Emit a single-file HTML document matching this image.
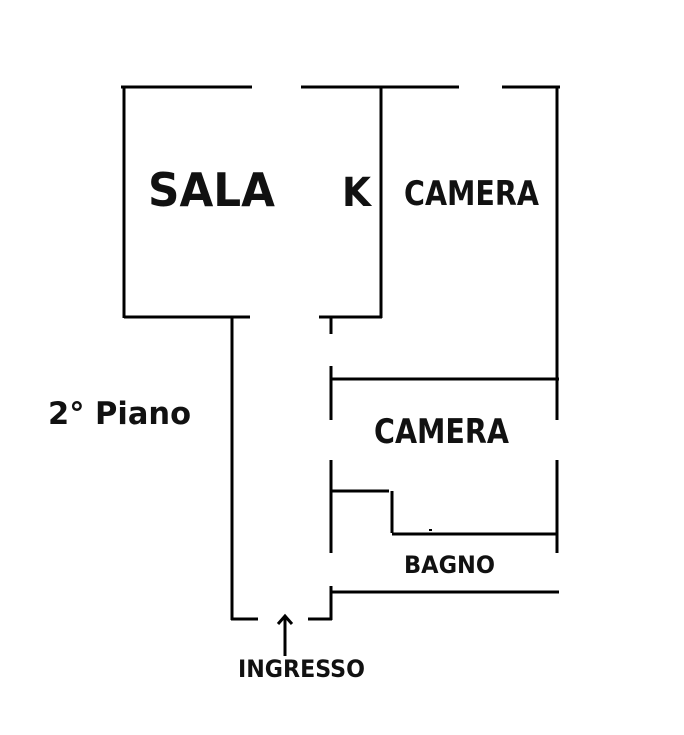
<!DOCTYPE html>
<html><head><style>html,body{margin:0;padding:0;background:#fff}svg{display:block}</style></head>
<body>
<svg width="684" height="735" viewBox="0 0 684 735" xmlns="http://www.w3.org/2000/svg">
<g stroke="#000" stroke-width="3" fill="none" stroke-linecap="butt">
<line x1="121" y1="87" x2="252" y2="87"/>
<line x1="301" y1="87" x2="459" y2="87"/>
<line x1="502" y1="87" x2="560" y2="87"/>
<line x1="124" y1="87" x2="124" y2="318"/>
<line x1="124" y1="317" x2="250" y2="317"/>
<line x1="319" y1="317" x2="382" y2="317"/>
<line x1="381" y1="87" x2="381" y2="318"/>
<line x1="557" y1="87" x2="557" y2="420"/>
<line x1="557" y1="460" x2="557" y2="553"/>
<line x1="232" y1="317" x2="232" y2="620"/>
<line x1="231" y1="619" x2="258" y2="619"/>
<line x1="308" y1="619" x2="332" y2="619"/>
<line x1="331" y1="318" x2="331" y2="334"/>
<line x1="331" y1="366" x2="331" y2="420"/>
<line x1="331" y1="460" x2="331" y2="553"/>
<line x1="331" y1="586" x2="331" y2="620"/>
<line x1="331" y1="379" x2="559" y2="379"/>
<line x1="330" y1="491" x2="389" y2="491"/>
<line x1="392" y1="491" x2="392" y2="533"/>
<line x1="392" y1="534" x2="558" y2="534"/>
<line x1="330" y1="592" x2="559" y2="592"/>
<line x1="285" y1="616" x2="285" y2="656"/>
<polyline points="278,624 285,616 292,624"/>
</g>
<rect x="429" y="529" width="3" height="2" fill="#000"/>
<g font-family="'DejaVu Sans','Liberation Sans',sans-serif" font-weight="bold" fill="#111">
<text x="148" y="206" font-size="46" textLength="127" lengthAdjust="spacingAndGlyphs">SALA</text>
<text x="342" y="206" font-size="40" textLength="29" lengthAdjust="spacingAndGlyphs">K</text>
<text x="404" y="205" font-size="34" textLength="135" lengthAdjust="spacingAndGlyphs">CAMERA</text>
<text x="374" y="443" font-size="34" textLength="135" lengthAdjust="spacingAndGlyphs">CAMERA</text>
<text x="404" y="573" font-size="24" textLength="91" lengthAdjust="spacingAndGlyphs">BAGNO</text>
<text x="48" y="424" font-size="31" textLength="143" lengthAdjust="spacingAndGlyphs">2° Piano</text>
<text x="238" y="677" font-size="24" textLength="127" lengthAdjust="spacingAndGlyphs">INGRESSO</text>
</g>
</svg>
</body></html>
